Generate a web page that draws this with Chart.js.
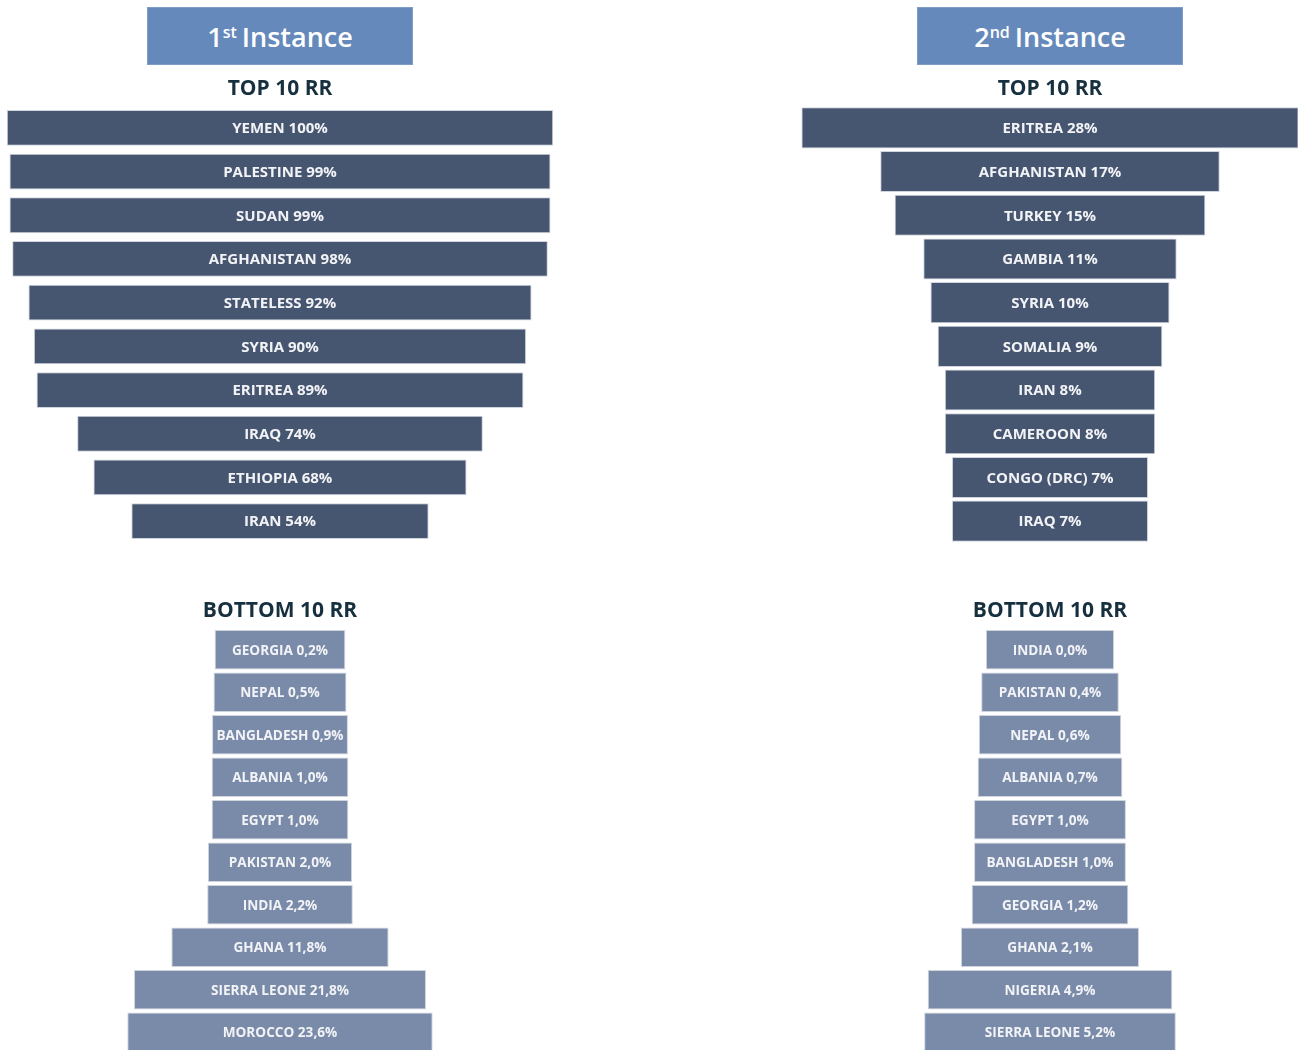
<!DOCTYPE html>
<html>
<head>
<meta charset="utf-8">
<script src="https://cdn.jsdelivr.net/npm/chart.js@4.4.1/dist/chart.umd.min.js"></script>
<style>
  html, body { margin: 0; padding: 0; background: #fff; overflow: hidden; }
  body { width: 1298px; height: 1050px; position: relative; font-family: 'Open Sans', sans-serif; }
  canvas { position: absolute; }
  .instance {
    position: absolute; top: 7px; width: 266px; height: 58px;
    background: #6589bb; color: #fff; font-size: 27px; font-weight: 600;
    display: flex; align-items: center; justify-content: center;
    box-sizing: border-box; border: 1px solid #7f9cc6;
  }
  .instance sup { font-size: 16px; position: relative; top: -4px; margin-right: 5px; }
</style>
</head>
<body>
<div class="instance" style="left:147px">1<sup>st</sup>Instance</div>
<div class="instance" style="left:917px">2<sup>nd</sup>Instance</div>

<canvas id="top1" width="560" height="480" style="left:0;top:70px"></canvas>
<canvas id="top2" width="520" height="480" style="left:790px;top:70px"></canvas>
<canvas id="bottom1" width="560" height="468" style="left:0;top:592px"></canvas>
<canvas id="bottom2" width="520" height="468" style="left:790px;top:592px"></canvas>

<script>
// 1st instance
const top1Names = ['YEMEN', 'PALESTINE', 'SUDAN', 'AFGHANISTAN', 'STATELESS', 'SYRIA', 'ERITREA', 'IRAQ', 'ETHIOPIA', 'IRAN'];
const top1Values = [100, 99, 99, 98, 92, 90, 89, 74, 68, 54];
const bottom1Names = ['GEORGIA', 'NEPAL', 'BANGLADESH', 'ALBANIA', 'EGYPT', 'PAKISTAN', 'INDIA', 'GHANA', 'SIERRA LEONE', 'MOROCCO'];
const bottom1Values = [0.2, 0.5, 0.9, 1.0, 1.0, 2.0, 2.2, 11.8, 21.8, 23.6];

// 2nd instance
const top2Names = ['ERITREA', 'AFGHANISTAN', 'TURKEY', 'GAMBIA', 'SYRIA', 'SOMALIA', 'IRAN', 'CAMEROON', 'CONGO (DRC)', 'IRAQ'];
const top2Values = [28, 17, 15, 11, 10, 9, 8, 8, 7, 7];
const bottom2Names = ['INDIA', 'PAKISTAN', 'NEPAL', 'ALBANIA', 'EGYPT', 'BANGLADESH', 'GEORGIA', 'GHANA', 'NIGERIA', 'SIERRA LEONE'];
const bottom2Values = [0.0, 0.4, 0.6, 0.7, 1.0, 1.0, 1.2, 2.1, 4.9, 5.2];

const TOP_COLOR = '#475670';
const BOTTOM_COLOR = '#7a8baa';

// writes "NAME value%" in the middle of every bar
const barLabels = {
    id: 'barLabels',
    afterDatasetsDraw(chart, args, opts) {
        const ctx = chart.ctx;
        const meta = chart.getDatasetMeta(0);
        const values = chart.data.datasets[0].rawValues;
        ctx.save();
        ctx.font = 'bold ' + opts.size + 'px "Open Sans"';
        ctx.fillStyle = '#f2f3f6';
        ctx.textAlign = 'center';
        ctx.textBaseline = 'middle';
        meta.data.forEach((bar, i) => {
            const txt = chart.data.labels[i] + ' ' + values[i].toFixed(opts.decimals).replace('.', ',') + '%';
            ctx.fillText(txt, (bar.x + bar.base) / 2, bar.y + 1);
        });
        ctx.restore();
    }
};

// funnel: each bar centred on 0, width = value + minimum width (k)
function funnel(id, title, names, values, o) {
    new Chart(document.getElementById(id), {
        type: 'bar',
        data: {
            labels: names,
            datasets: [{
                data: values.map(v => [-(v + o.k) / 2, (v + o.k) / 2]),
                rawValues: values,
                backgroundColor: o.color,
                borderColor: '#cfd4dd',
                borderWidth: 1,
                borderSkipped: false,
                barPercentage: o.thickness,
                categoryPercentage: 1
            }]
        },
        options: {
            indexAxis: 'y',
            responsive: false,
            animation: false,
            layout: { padding: { top: 0, bottom: o.padBottom, left: 0, right: 0 } },
            scales: {
                x: { display: false, min: -o.half, max: o.half },
                y: { display: false }
            },
            plugins: {
                legend: { display: false },
                tooltip: { enabled: false },
                title: {
                    display: true,
                    text: title,
                    color: '#17303f',
                    font: { family: 'Open Sans', size: 21, weight: 'bold' },
                    padding: { top: 6, bottom: o.titleGap }
                },
                barLabels: { size: o.fontSize, decimals: o.decimals }
            }
        },
        plugins: [barLabels]
    });
}

funnel('top1', 'TOP 10 RR', top1Names, top1Values,
    { k: 0.9, half: 51.7, color: TOP_COLOR, thickness: 0.82, padBottom: 7, titleGap: 4.8, fontSize: 15, decimals: 0 });
funnel('top2', 'TOP 10 RR', top2Names, top2Values,
    { k: 6.67, half: 18.13, color: TOP_COLOR, thickness: 0.94, padBottom: 7, titleGap: 4.8, fontSize: 15, decimals: 0 });
funnel('bottom1', 'BOTTOM 10 RR', bottom1Names, bottom1Values,
    { k: 17.3, half: 37.5, color: BOTTOM_COLOR, thickness: 0.93, padBottom: 6.5, titleGap: 5.3, fontSize: 13.6, decimals: 1 });
funnel('bottom2', 'BOTTOM 10 RR', bottom2Names, bottom2Values,
    { k: 5.39, half: 10.94, color: BOTTOM_COLOR, thickness: 0.93, padBottom: 6.5, titleGap: 5.3, fontSize: 13.6, decimals: 1 });
</script>
</body>
</html>
